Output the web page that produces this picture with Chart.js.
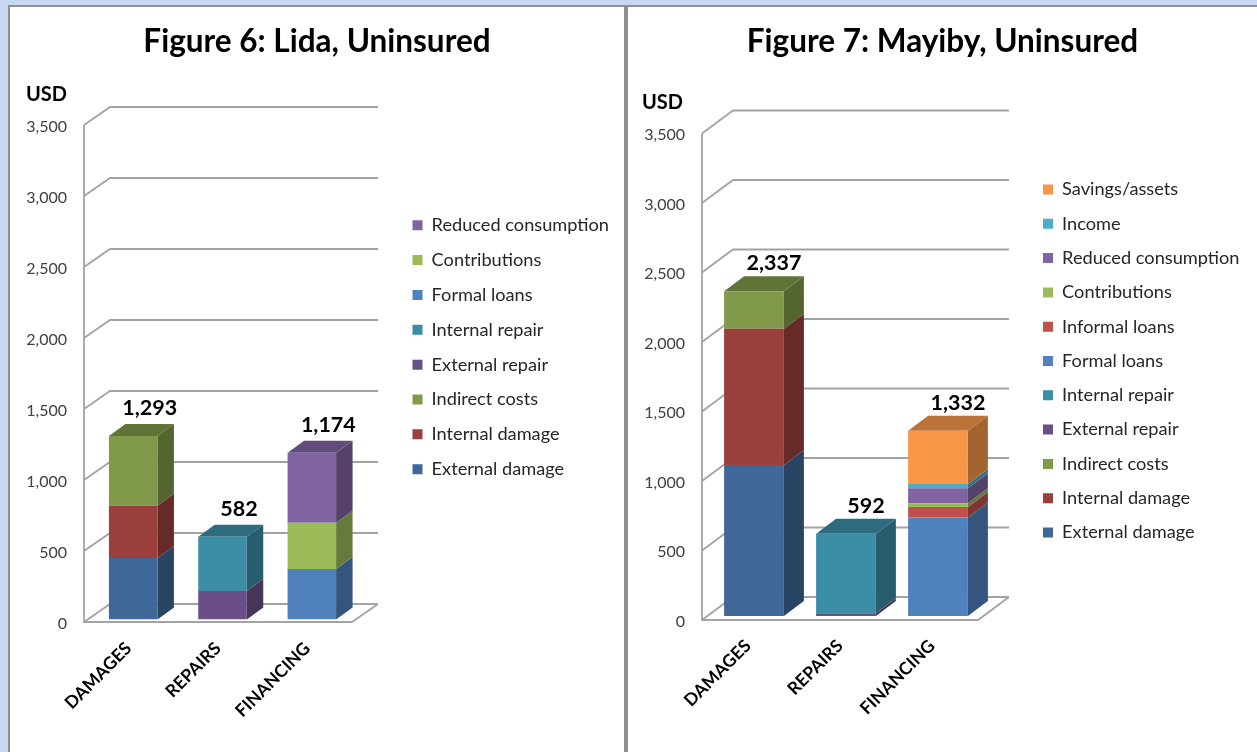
<!DOCTYPE html>
<html>
<head>
<meta charset="utf-8">
<title>Figures 6 and 7</title>
<script src="https://cdn.jsdelivr.net/npm/chart.js@4"></script>
<style>
  html, body { margin: 0; height: 100%; overflow: hidden; background: #c6d9f1; }
  .panel { position: absolute; top: 5px; height: 760px; background: #fff; border-top: 2px solid #8f8f8f; box-sizing: border-box; }
  #leftPanel { left: 8px; width: 616px; border-left: 2px solid #8f8f8f; }
  #rightPanel { left: 624px; width: 640px; border-left: 4px solid #8f8f8f; }
  canvas { position: absolute; top: 7px; }
  #lidaChart { left: 10px; }
  #mayibyChart { left: 628px; }
</style>
</head>
<body>
<div class="panel" id="leftPanel"></div>
<div class="panel" id="rightPanel"></div>
<canvas id="lidaChart" width="614" height="745"></canvas>
<canvas id="mayibyChart" width="629" height="745"></canvas>
<script>
// Data
const categories = ["DAMAGES", "REPAIRS", "FINANCING"];
const yTickMax = 3500;
const yTickStep = 500;

const lidaSeries = ["External damage", "Internal damage", "Indirect costs", "External repair", "Internal repair", "Formal loans", "Contributions", "Reduced consumption"];
const lidaValues = [
  [433, null, null],
  [368, null, null],
  [492, null, null],
  [null, 200, null],
  [null, 382, null],
  [null, null, 356],
  [null, null, 326],
  [null, null, 492]
];

const mayibySeries = ["External damage", "Internal damage", "Indirect costs", "External repair", "Internal repair", "Formal loans", "Informal loans", "Contributions", "Reduced consumption", "Income", "Savings/assets"];
const mayibyValues = [
  [1087, null, null],
  [979, null, null],
  [271, null, null],
  [null, 20, null],
  [null, 572, null],
  [null, null, 708],
  [null, null, 77],
  [null, null, 26],
  [null, null, 108],
  [null, null, 31],
  [null, null, 382]
];

const seriesColors = {
  "External damage": "#3f6797",
  "Internal damage": "#9b3f3d",
  "Indirect costs": "#80994a",
  "External repair": "#6a4f87",
  "Internal repair": "#3c8da6",
  "Formal loans": "#4f81bd",
  "Informal loans": "#c0504d",
  "Contributions": "#9bbb59",
  "Reduced consumption": "#8064a2",
  "Income": "#4bacc6",
  "Savings/assets": "#f99749"
};

const GRID_GRAY = "#a3a3a3";
const FONT = "Lato";

function shade(hex, f) {
  const n = parseInt(hex.slice(1), 16);
  const r = Math.round((n >> 16) * f);
  const g = Math.round(((n >> 8) & 255) * f);
  const b = Math.round((n & 255) * f);
  return `rgb(${r},${g},${b})`;
}

function poly(ctx, pts, color) {
  ctx.fillStyle = color;
  ctx.beginPath();
  pts.forEach((p, i) => (i ? ctx.lineTo(p[0], p[1]) : ctx.moveTo(p[0], p[1])));
  ctx.closePath();
  ctx.fill();
}

// Fakes the Excel 3D look: walls and floor behind, side and top faces on the bars
const box3d = {
  id: "box3d",
  beforeLayout(chart) {
    const lg = chart.legend;
    const cfg = chart.options.plugins.box3d;
    if (!lg.fixedFit) {
      const fit = lg.fit;
      lg.fit = function () { fit.call(this); this.width = cfg.legendWidth; };
      lg.fixedFit = true;
    }
  },
  afterLayout(chart) {
    const cfg = chart.options.plugins.box3d;
    const pad = chart.options.plugins.legend.labels.padding;
    chart.legend.left = cfg.legendX - pad;
    chart.legend.top = cfg.legendY - pad;
  },
  beforeDatasetsDraw(chart) {
    const cfg = chart.options.plugins.box3d;
    const { ctx, chartArea: area, scales: { y } } = chart;
    const y0 = y.getPixelForValue(0);

    ctx.save();
    ctx.translate(0, -cfg.lineLift);
    ctx.strokeStyle = GRID_GRAY;
    ctx.lineWidth = 1.8;
    ctx.beginPath();
    y.ticks.forEach(t => {
      const py = y.getPixelForValue(t.value);
      ctx.moveTo(area.left, py);
      ctx.lineTo(area.left + cfg.wallDx, py - cfg.wallDy);
      ctx.lineTo(area.right + cfg.wallDx, py - cfg.wallDy);
    });
    ctx.moveTo(area.left, y.getPixelForValue(yTickMax));
    ctx.lineTo(area.left, y0);
    ctx.lineTo(area.right, y0);
    ctx.lineTo(area.right + cfg.wallDx, y0 - cfg.wallDy);
    ctx.stroke();
    ctx.restore();

    ctx.save();
    ctx.font = `bold ${cfg.unitSize}px ${FONT}`;
    ctx.fillStyle = "#000";
    ctx.textAlign = "left";
    ctx.textBaseline = "middle";
    ctx.fillText("USD", cfg.unitX, cfg.unitY);
    ctx.restore();

    // bars sit a little behind the front edge of the floor
    ctx.save();
    ctx.translate(cfg.barShift, -cfg.barLift);

    chart.data.datasets.forEach((ds, i) => {
      const base = seriesColors[ds.label];
      chart.getDatasetMeta(i).data.forEach((bar, c) => {
        if (ds.data[c] === null) return;
        const right = bar.x + bar.width / 2;
        const left = bar.x - bar.width / 2;
        poly(ctx, [[right, bar.base], [right + cfg.barDx, bar.base - cfg.barDy], [right + cfg.barDx, bar.y - cfg.barDy], [right, bar.y]], shade(base, 0.66));
        if (isTop(chart, i, c)) {
          poly(ctx, [[left, bar.y], [left + cfg.barDx, bar.y - cfg.barDy], [right + cfg.barDx, bar.y - cfg.barDy], [right, bar.y]], shade(base, 0.76));
        }
      });
    });
  },
  afterDatasetsDraw(chart) {
    const cfg = chart.options.plugins.box3d;
    const { ctx, scales: { x, y } } = chart;
    ctx.restore();

    ctx.save();
    ctx.font = `bold ${cfg.totalSize}px ${FONT}`;
    ctx.fillStyle = "#000";
    ctx.textAlign = "center";
    ctx.textBaseline = "middle";
    categories.forEach((cat, c) => {
      const total = chart.data.datasets.reduce((s, ds) => s + (ds.data[c] || 0), 0);
      ctx.fillText(total.toLocaleString("en-US"), x.getPixelForValue(c) + cfg.barShift + cfg.barDx, y.getPixelForValue(total) - cfg.barLift - 28);
    });
    ctx.restore();
  }
};

function isTop(chart, dsIndex, c) {
  const sets = chart.data.datasets;
  for (let i = dsIndex + 1; i < sets.length; i++) {
    if (sets[i].data[c] !== null) return false;
  }
  return true;
}

function drawFigure(canvasId, title, series, values, cfg) {
  new Chart(document.getElementById(canvasId), {
    type: "bar",
    plugins: [box3d],
    data: {
      labels: categories,
      datasets: series.map((name, i) => ({
        label: name,
        data: values[i],
        backgroundColor: seriesColors[name],
        borderWidth: 0,
        barPercentage: 1,
        categoryPercentage: cfg.barShare
      }))
    },
    options: {
      responsive: false,
      animation: false,
      locale: "en-US",
      layout: { padding: 0 },
      scales: {
        x: {
          stacked: true,
          afterFit(s) { s.height = 745 - cfg.zeroY; },
          grid: { display: false, drawTicks: false },
          border: { display: false },
          ticks: {
            autoSkip: false,
            minRotation: 45,
            maxRotation: 45,
            padding: cfg.xTickPad,
            color: "#000",
            font: { family: FONT, size: 17.5, weight: "bold" }
          }
        },
        y: {
          stacked: true,
          min: 0,
          max: yTickMax,
          afterFit(s) { s.width = cfg.axisX; },
          grid: { display: false, drawTicks: false },
          border: { display: false },
          ticks: {
            stepSize: yTickStep,
            padding: 17,
            color: "#404040",
            font: { family: FONT, size: 16 }
          }
        }
      },
      plugins: {
        title: {
          display: true,
          text: title,
          color: "#000",
          font: { family: FONT, size: 31.5, weight: "bold", lineHeight: 1.2 },
          padding: { top: cfg.titleTop, bottom: cfg.topY - cfg.titleTop - 37.8 }
        },
        legend: {
          position: "right",
          align: "start",
          reverse: true,
          labels: {
            boxWidth: 10,
            boxHeight: 10,
            padding: cfg.legendGap,
            color: "#262626",
            font: { family: FONT, size: 18.2 }
          }
        },
        tooltip: { enabled: false },
        box3d: cfg
      }
    }
  });
}

drawFigure("lidaChart", "Figure 6: Lida, Uninsured", lidaSeries, lidaValues, {
  axisX: 74, topY: 120, zeroY: 617, barShare: 0.543, barLift: 4.5, lineLift: 2, barShift: 4.5,
  wallDx: 26, wallDy: 18, barDx: 16.5, barDy: 12,
  legendWidth: 272, legendX: 402.5, legendY: 209.1, legendGap: 16.66,
  unitX: 16, unitY: 88, unitSize: 20, totalSize: 21.5, xTickPad: 14, titleTop: 15.5
});

drawFigure("mayibyChart", "Figure 7: Mayiby, Uninsured", mayibySeries, mayibyValues, {
  axisX: 74, topY: 128, zeroY: 614.5, barShare: 0.65, barLift: 5.5, lineLift: 1.5, barShift: 6,
  wallDx: 31, wallDy: 23, barDx: 20, barDy: 15,
  legendWidth: 279, legendX: 415, legendY: 173.4, legendGap: 16.1,
  unitX: 14, unitY: 96, unitSize: 20, totalSize: 21.5, xTickPad: 14, titleTop: 15.5
});
</script>
</body>
</html>
